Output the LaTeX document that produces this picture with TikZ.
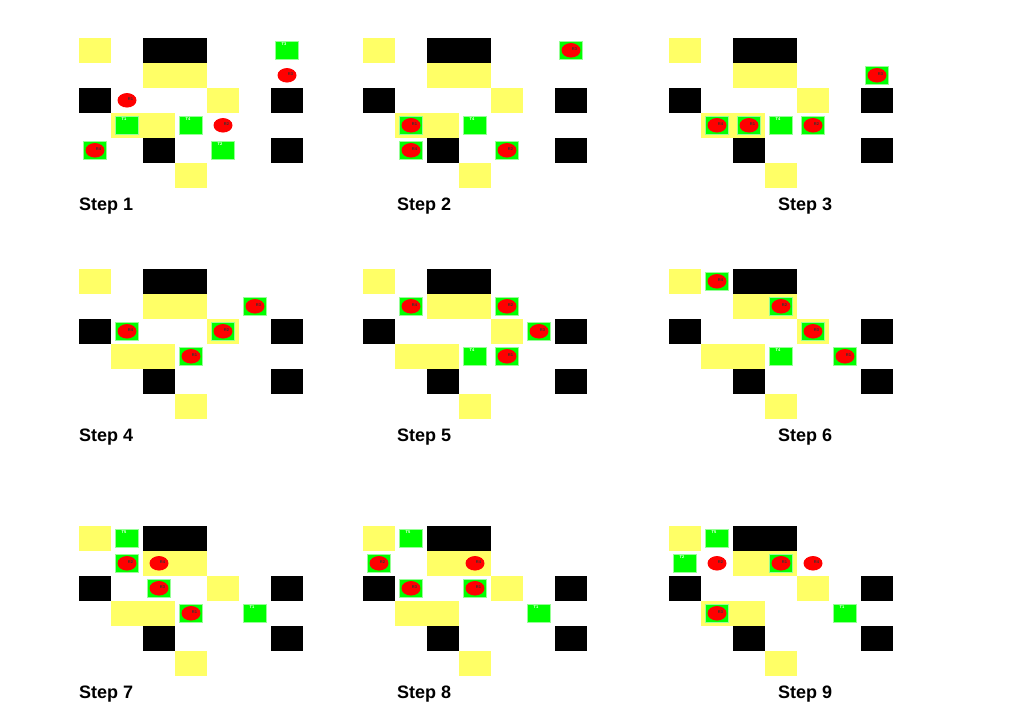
\documentclass[tikz,border=0pt]{standalone}
\usepackage{fontspec}
\setmainfont{Liberation Sans}
\usetikzlibrary{shapes.geometric}
\definecolor{ylw}{RGB}{255,255,102}
\definecolor{grn}{RGB}{0,255,0}
\definecolor{grnedge}{RGB}{150,255,150}
\definecolor{rd}{RGB}{255,0,0}
\tikzset{
  target/.style={rectangle, fill=grn, draw=grnedge, line width=0.6pt, minimum width=22.5pt, minimum height=18pt, inner sep=0pt},
  robot/.style={ellipse, fill=rd, minimum width=19pt, minimum height=14.5pt, inner sep=0pt},
  tlabel/.style={text=white, font=\bfseries\fontsize{4}{4}\selectfont, inner sep=0pt},
  rlabel/.style={text=black!80, font=\bfseries\fontsize{4}{4}\selectfont, inner sep=0pt},
  steplabel/.style={font=\bfseries\fontsize{18}{18}\selectfont, anchor=base west, inner sep=0pt},
}
\newcommand\mapgrid{%
  \foreach \c/\r in {0/0,2/1,3/1,4/2,1/3,2/3,3/5} \fill[ylw] (32*\c,25*\r) rectangle ++(32,25);
  \foreach \c/\r in {2/0,3/0,0/2,6/2,2/4,6/4} \fill[black] (32*\c,25*\r) rectangle ++(32,25);
}
% #1 prefix, #2 name, #3 col, #4 row
\newcommand\tgtcell[4]{%
  \node[target] (#1#2) at ({32*#3+16},{25*#4+12.5}) {};
  \node[tlabel] (#1#2l) at ({32*#3+13},{25*#4+6.2}) {#2};}
\newcommand\padcell[4]{%
  \node[target] (#1#2pad) at ({32*#3+16},{25*#4+12.5}) {};}
\newcommand\robcell[4]{%
  \node[robot] (#1#2) at ({32*#3+16},{25*#4+12.3}) {};
  \node[rlabel] (#1#2l) at ({32*#3+19.5},{25*#4+11.5}) {#2};}
\newcommand\robpad[4]{\padcell{#1}{#2}{#3}{#4}\robcell{#1}{#2}{#3}{#4}}
\begin{document}
\begin{tikzpicture}[x=1pt,y=-1pt]
\useasboundingbox[fill=white] (0,0) rectangle (1009,719);
% Step 1
\begin{scope}[shift={(79,38)}]
  \mapgrid
  \tgtcell{a}{T3}{6}{0}
  \robcell{a}{R3}{6}{1}
  \robcell{a}{R1}{1}{2}
  \tgtcell{a}{T1}{1}{3}
  \tgtcell{a}{T4}{3}{3}
  \robcell{a}{R2}{4}{3}
  \robpad{a}{R4}{0}{4}
  \tgtcell{a}{T2}{4}{4}
\end{scope}
\node[steplabel] (s1) at (79,210.7) {Step 1};
% Step 2
\begin{scope}[shift={(363,38)}]
  \mapgrid
  \robpad{b}{R3}{6}{0}
  \robpad{b}{R1}{1}{3}
  \tgtcell{b}{T4}{3}{3}
  \robpad{b}{R4}{1}{4}
  \robpad{b}{R2}{4}{4}
\end{scope}
\node[steplabel] (s2) at (397,210.7) {Step 2};
% Step 3
\begin{scope}[shift={(669,38)}]
  \mapgrid
  \robpad{c}{R3}{6}{1}
  \robpad{c}{R4}{1}{3}
  \robpad{c}{R1}{2}{3}
  \tgtcell{c}{T4}{3}{3}
  \robpad{c}{R2}{4}{3}
\end{scope}
\node[steplabel] (s3) at (778,210.7) {Step 3};
% Step 4
\begin{scope}[shift={(79,269)}]
  \mapgrid
  \robpad{d}{R3}{5}{1}
  \robpad{d}{R4}{1}{2}
  \robpad{d}{R2}{4}{2}
  \robpad{d}{R1}{3}{3}
\end{scope}
\node[steplabel] (s4) at (79,441.7) {Step 4};
% Step 5
\begin{scope}[shift={(363,269)}]
  \mapgrid
  \robpad{e}{R4}{1}{1}
  \robpad{e}{R2}{4}{1}
  \robpad{e}{R3}{5}{2}
  \tgtcell{e}{T4}{3}{3}
  \robpad{e}{R1}{4}{3}
\end{scope}
\node[steplabel] (s5) at (397,441.7) {Step 5};
% Step 6
\begin{scope}[shift={(669,269)}]
  \mapgrid
  \robpad{f}{R4}{1}{0}
  \robpad{f}{R2}{3}{1}
  \robpad{f}{R3}{4}{2}
  \tgtcell{f}{T4}{3}{3}
  \robpad{f}{R1}{5}{3}
\end{scope}
\node[steplabel] (s6) at (778,441.7) {Step 6};
% Step 7
\begin{scope}[shift={(79,526)}]
  \mapgrid
  \tgtcell{g}{T5}{1}{0}
  \robpad{g}{R2}{1}{1}
  \robcell{g}{R4}{2}{1}
  \robpad{g}{R3}{2}{2}
  \robpad{g}{R1}{3}{3}
  \tgtcell{g}{T1}{5}{3}
\end{scope}
\node[steplabel] (s7) at (79,698.3) {Step 7};
% Step 8
\begin{scope}[shift={(363,526)}]
  \mapgrid
  \tgtcell{h}{T5}{1}{0}
  \robpad{h}{R2}{0}{1}
  \robcell{h}{R4}{3}{1}
  \robpad{h}{R3}{1}{2}
  \robpad{h}{R1}{3}{2}
  \tgtcell{h}{T1}{5}{3}
\end{scope}
\node[steplabel] (s8) at (397,698.3) {Step 8};
% Step 9
\begin{scope}[shift={(669,526)}]
  \mapgrid
  \tgtcell{i}{T5}{1}{0}
  \tgtcell{i}{T2}{0}{1}
  \robcell{i}{R2}{1}{1}
  \robpad{i}{R1}{3}{1}
  \robcell{i}{R4}{4}{1}
  \robpad{i}{R3}{1}{3}
  \tgtcell{i}{T1}{5}{3}
\end{scope}
\node[steplabel] (s9) at (778,698.3) {Step 9};
\end{tikzpicture}
\end{document}
